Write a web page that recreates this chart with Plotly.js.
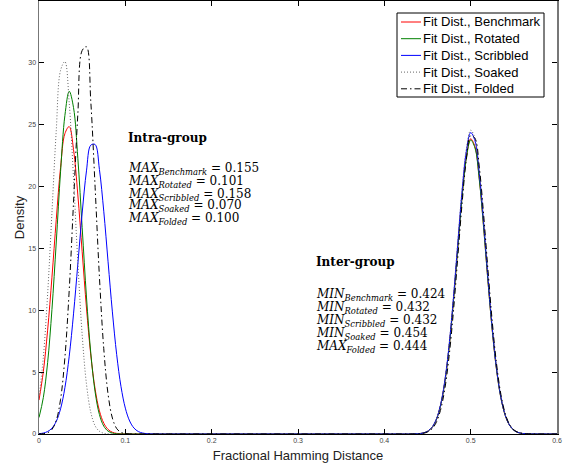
<!DOCTYPE html>
<html>
<head>
<meta charset="utf-8">
<script src="https://cdn.plot.ly/plotly-3.0.1.min.js"></script>
<style>html,body{margin:0;padding:0;background:#fff;}#chart{width:574px;height:468px;}</style>
</head>
<body>
<div id="chart"></div>
<script>
// Sample positions (Fractional Hamming Distance)
const xIntra = [0,0.005,0.01,0.015,0.02,0.025,0.03,0.035,0.04,0.045,0.05,0.055,0.06,0.065,0.07,0.075,0.08,0.085,0.09,0.095,0.1,0.105,0.11,0.115,0.12,0.125,0.13,0.135,0.14,0.145,0.15];
const xInter = [0.42,0.43,0.435,0.44,0.445,0.45,0.455,0.46,0.465,0.47,0.475,0.48,0.485,0.49,0.495,0.5,0.505,0.51,0.515,0.52,0.525,0.53,0.535,0.54,0.545,0.55,0.555,0.56,0.565,0.57,0.58,0.6];

// Density values
const benchIntra = [2.74,5.04,8.39,12.67,17.35,21.55,24.28,24.85,22.99,19.32,14.73,10.18,6.38,3.63,1.87,0.88,0.37,0.14,0.05,0.016,0.004,0,0,0,0,0,0,0,0,0,0];
const rotIntra   = [1.33,2.94,5.78,10.06,15.52,21.24,25.75,27.7,26.38,22.28,16.68,11.07,6.52,3.4,1.57,0.64,0.23,0.075,0.02,0.005,0,0,0,0,0,0,0,0,0,0,0];
const scribIntra = [0.027,0.075,0.2,0.47,1.02,2.04,3.74,6.29,9.71,13.75,17.86,21.27,23.35,23.4,21.38,18.01,13.92,9.87,6.41,3.82,2.09,1.05,0.48,0.2,0.079,0.028,0.009,0.003,0,0,0];
const soakIntra  = [2.94,6.19,11.31,17.9,24.55,29.4,30.1,26.75,20.66,13.83,8.02,4.03,1.75,0.66,0.22,0.06,0.015,0.003,0,0,0,0,0,0,0,0,0,0,0,0,0];
const foldIntra  = [0.005,0.026,0.1,0.37,1.1,2.81,6.18,11.63,18.74,25.88,31.0,31.3,26.86,19.94,12.69,6.91,3.22,1.29,0.44,0.13,0.032,0.007,0,0,0,0,0,0,0,0,0];

const benchInter = [0,0,0.009,0.028,0.081,0.213,0.514,1.13,2.28,4.18,7.01,10.73,15.03,19.18,22.39,23.86,23.22,20.64,16.76,12.41,8.4,5.19,2.93,1.51,0.71,0.31,0.12,0.043,0.014,0.005,0,0];
const rotInter   = [0,0,0.009,0.028,0.08,0.212,0.512,1.13,2.27,4.16,6.98,10.69,14.96,19.1,22.3,23.76,23.12,20.55,16.69,12.36,8.37,5.17,2.92,1.51,0.71,0.3,0.12,0.043,0.014,0.005,0,0];
const scribInter = [0,0,0.009,0.029,0.082,0.218,0.525,1.15,2.32,4.27,7.16,10.96,15.34,19.59,22.86,24.36,23.7,21.07,17.11,12.67,8.58,5.3,2.99,1.54,0.72,0.31,0.12,0.044,0.015,0.005,0,0];
const soakInter  = [0,0,0.009,0.029,0.083,0.219,0.529,1.16,2.34,4.3,7.22,11.05,15.47,19.75,23.05,24.56,23.9,21.24,17.25,12.78,8.65,5.34,3.02,1.56,0.73,0.31,0.12,0.044,0.015,0.005,0,0];
const foldInter  = [0,0,0.006,0.019,0.058,0.16,0.4,0.91,1.91,3.62,6.27,9.88,14.2,18.59,22.18,24.12,23.9,21.57,17.75,13.31,9.09,5.66,3.21,1.66,0.78,0.34,0.13,0.047,0.015,0.004,0,0];

const seriesNames = ['Fit Dist., Benchmark','Fit Dist., Rotated','Fit Dist., Scribbled','Fit Dist., Soaked','Fit Dist., Folded'];

const intraLabels = ['Benchmark','Rotated','Scribbled','Soaked','Folded'];
const intraValues = ['0.155','0.101','0.158','0.070','0.100'];
const interPrefix = ['MIN','MIN','MIN','MIN','MAX'];
const interValues = ['0.424','0.432','0.432','0.454','0.444'];

const styles = [
  {color:'#ff0000', width:1, dash:'solid'},
  {color:'#008000', width:1, dash:'solid'},
  {color:'#0000ff', width:1, dash:'solid'},
  {color:'#666666', width:1, dash:'1px,2px'},
  {color:'#000000', width:1, dash:'6px,3px,1.5px,3px'}
];
const intraData = [benchIntra, rotIntra, scribIntra, soakIntra, foldIntra];
const interData = [benchInter, rotInter, scribInter, soakInter, foldInter];
const xAll = xIntra.concat(xInter);

const traces = seriesNames.map((n,i)=>({
  type:'scatter', mode:'lines', name:n,
  x:xAll, y:intraData[i].concat(interData[i]),
  line:{color:styles[i].color, width:styles[i].width, dash:styles[i].dash, shape:'spline', smoothing:1},
  hoverinfo:'skip', showlegend:false
}));

// plot-area geometry in pixels, used to place the legend box
const M = {l:39, r:17, t:1, b:34}, W = 574, H = 468;
const PW = W - M.l - M.r, PH = H - M.t - M.b;
const px = v => (v - M.l) / PW;
const py = v => (H - M.b - v) / PH;

const serif = 'DejaVu Serif, serif';
const sans = 'Liberation Sans, Arial, Helvetica, sans-serif';
const fs = 12;
const annotations = [];
const shapes = [];

annotations.push({xref:'x',yref:'y',x:0.101,y:23.95,xanchor:'left',yanchor:'middle',showarrow:false,
  text:'<b>Intra-group</b>', font:{family:serif,size:fs,color:'#000'}});
const intraY = [21.45,20.4,19.35,18.39,17.34];
intraLabels.forEach((l,i)=>annotations.push({xref:'x',yref:'y',x:0.101,y:intraY[i],xanchor:'left',yanchor:'middle',showarrow:false,
  text:'<i>MAX</i><sub><i>'+l+'</i></sub> = '+intraValues[i], font:{family:serif,size:fs,color:'#000'}}));
annotations.push({xref:'x',yref:'y',x:0.319,y:13.87,xanchor:'left',yanchor:'middle',showarrow:false,
  text:'<b>Inter-group</b>', font:{family:serif,size:fs,color:'#000'}});
const interY = [11.21,10.16,9.11,8.06,7.02];
intraLabels.forEach((l,i)=>annotations.push({xref:'x',yref:'y',x:0.319,y:interY[i],xanchor:'left',yanchor:'middle',showarrow:false,
  text:'<i>'+interPrefix[i]+'</i><sub><i>'+l+'</i></sub> = '+interValues[i], font:{family:serif,size:fs,color:'#000'}}));

// legend (box, line samples, labels)
shapes.push({type:'rect',xref:'paper',yref:'paper',x0:px(397),x1:px(544),y0:py(97),y1:py(13),
  line:{color:'#000',width:1},fillcolor:'#fff',layer:'above'});
const legY0 = 22, legStep = 16.7;
seriesNames.forEach((n,i)=>{
  const yy = py(legY0 + i*legStep);
  shapes.push({type:'line',xref:'paper',yref:'paper',x0:px(401),x1:px(421),y0:yy,y1:yy,
    line:{color:styles[i].color,width:1,dash:styles[i].dash},layer:'above'});
  annotations.push({xref:'paper',yref:'paper',x:px(421),y:yy,xanchor:'left',yanchor:'middle',showarrow:false,
    text:n,font:{family:sans,size:13,color:'#000'}});
});

const layout = {
  width:W, height:H,
  margin:M,
  paper_bgcolor:'#fff', plot_bgcolor:'#fff',
  showlegend:false,
  xaxis:{range:[0,0.6],tickvals:[0,0.1,0.2,0.3,0.4,0.5,0.6],ticktext:['0','0.1','0.2','0.3','0.4','0.5','0.6'],
    ticks:'inside',ticklen:5,tickcolor:'#000',showline:true,linecolor:'#000',linewidth:1,mirror:'ticks',
    showgrid:false,zeroline:false,tickfont:{family:sans,size:7,color:'#444'},
    title:{text:'Fractional Hamming Distance',standoff:7,font:{family:sans,size:13,color:'#222'}}},
  yaxis:{range:[0,35],tickvals:[0,5,10,15,20,25,30,35],
    ticks:'inside',ticklen:5,tickcolor:'#000',showline:true,linecolor:'#777',linewidth:1.5,mirror:'ticks',
    showgrid:false,zeroline:false,tickfont:{family:sans,size:7,color:'#444'},
    title:{text:'Density',standoff:1,font:{family:sans,size:13,color:'#222'}}},
  annotations:annotations,
  shapes:shapes
};
Plotly.newPlot('chart', traces, layout, {displayModeBar:false, staticPlot:true});
</script>
</body>
</html>
